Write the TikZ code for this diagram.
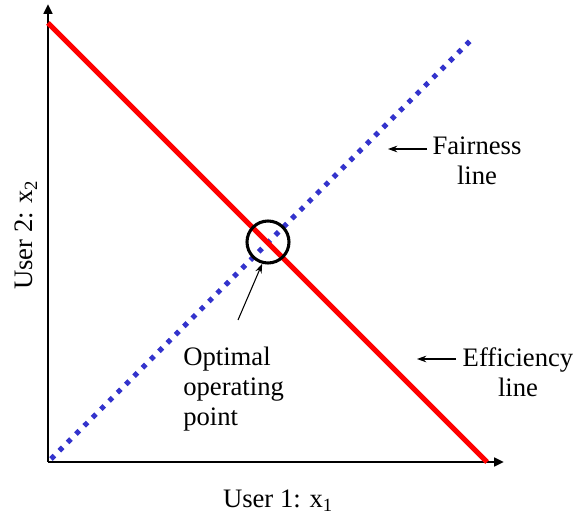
\documentclass[tikz,border=0pt]{standalone}
\usepackage{fontspec}
\setmainfont{Liberation Serif}
\usetikzlibrary{arrows.meta}
\definecolor{dotblue}{RGB}{51,51,204}

\begin{document}
\begin{tikzpicture}[x=0.75bp, y=0.75bp,
    axisline/.style={line width=2.2bp, -{Triangle[length=7.5bp,width=6.5bp]}},
    effline/.style={red, line width=3.8bp},
    fairline/.style={dotblue, line width=3.8bp, dash pattern=on 3.6bp off 5.2bp},
    pointer/.style={line width=0.8bp, -{Stealth[length=7bp,width=5bp]}},
    txt/.style={font=\fontsize{20bp}{22.5bp}\selectfont, inner sep=0pt}]

    \useasboundingbox (0,0) rectangle (581,518);

    % axes
    \coordinate (O) at (48,56);
    \coordinate (ytip) at (48,514);
    \coordinate (xtip) at (504,56);
    \draw[axisline] (O) -- (ytip);
    \draw[axisline] (O) -- (xtip);

    % Linien
    \coordinate (efftop) at (48,495);
    \coordinate (effend) at (487,56);
    \coordinate (fairstart) at (51,59);
    \coordinate (fairend) at (471,478);
    \draw[fairline] (fairstart) -- (fairend);
    \draw[effline] (efftop) -- (effend);

    \node[draw, circle, line width=2.3bp, minimum size=31.5bp, inner sep=0pt] (opt) at (268,276) {};

    % labels
    \node[txt, anchor=base, rotate=90] (ylab) at (33,283) {User 2: x\textsubscript{2}};
    \node[txt, anchor=base] (xlab) at (278,11) {User 1: x\textsubscript{1}};
    \node[txt, anchor=north, align=center] (fair) at (477,381) {Fairness\\line};
    \node[txt, anchor=north, align=center] (eff) at (518,171) {Efficiency\\line};
    \node[txt, anchor=north west, align=left] (optlab) at (183,171) {Optimal\\operating\\point};

    \coordinate (fairtail) at (427,369);
    \coordinate (fairhead) at (388,369);
    \coordinate (efftail) at (456,159);
    \coordinate (effhead) at (417,159);
    \coordinate (opttail) at (238,198);
    \draw[pointer] (fairtail) -- (fairhead);
    \draw[pointer] (efftail) -- (effhead);
    \draw[pointer] (opttail) -- (opt.255);
\end{tikzpicture}
\end{document}
